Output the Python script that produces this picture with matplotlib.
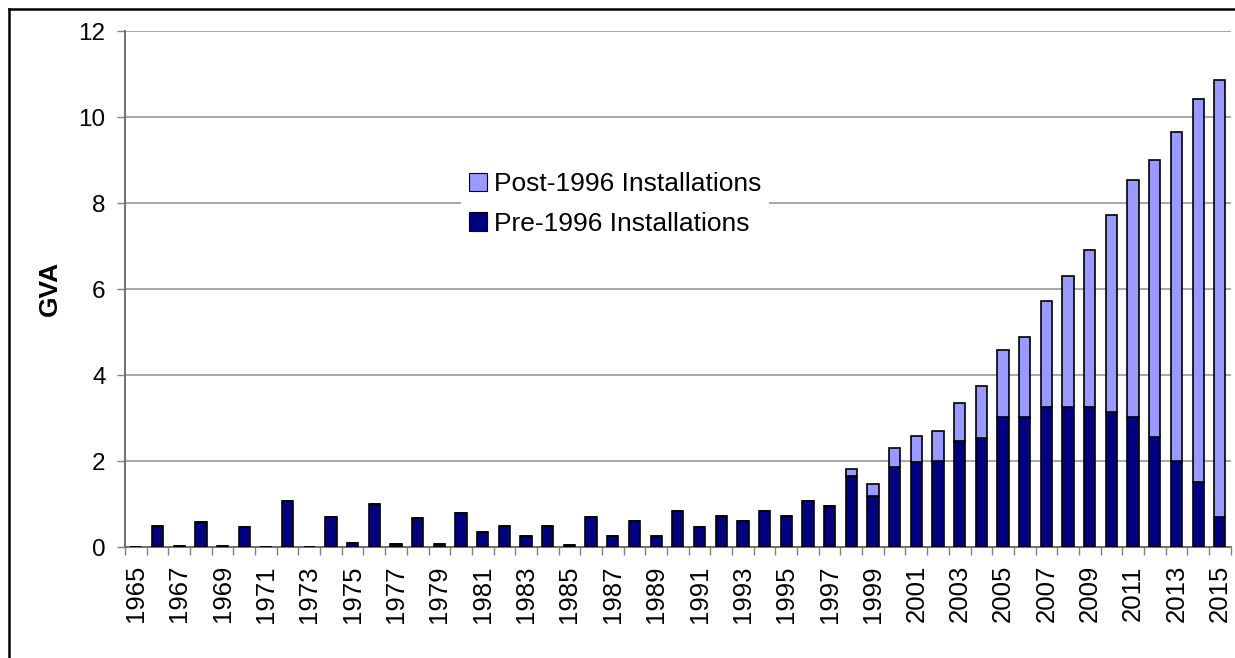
import matplotlib
matplotlib.use("Agg")
import matplotlib.pyplot as plt
from matplotlib.patches import Patch
from matplotlib.lines import Line2D
import numpy as np

plt.rcParams['font.family'] = ['Liberation Sans', 'DejaVu Sans']

years = list(range(1965, 2016))
pre_1996 = [0, 0.49, 0.03, 0.57, 0.03, 0.46, 0, 1.08, 0, 0.70, 0.10,
            1.00, 0.07, 0.67, 0.07, 0.78, 0.35, 0.48, 0.26, 0.48, 0.05,
            0.69, 0.26, 0.60, 0.26, 0.84, 0.47, 0.71, 0.60, 0.84, 0.71,
            1.08, 0.95, 1.64, 1.19, 1.86, 1.98, 1.99, 2.47, 2.54, 3.02,
            3.02, 3.26, 3.26, 3.26, 3.14, 3.02, 2.56, 1.99, 1.52, 0.70]
post_1996 = [0] * 33 + [0.17, 0.28, 0.45, 0.61, 0.70, 0.87, 1.20, 1.55,
                        1.87, 2.45, 3.05, 3.65, 4.59, 5.51, 6.43, 7.66, 8.91, 10.15]
y_ticks = [0, 2, 4, 6, 8, 10, 12]
series_labels = ["Post-1996 Installations", "Pre-1996 Installations"]

W, H = 1235, 658
fig = plt.figure(figsize=(W / 100, H / 100), dpi=100)

# axes in pixel geometry
left, right, top, bottom = 125, 125 + 21.68 * 51, 31, 547
ax = fig.add_axes([left / W, 1 - bottom / H, (right - left) / W, (bottom - top) / H])

x = np.arange(len(years))
dark = '#000080'
light = '#9999FF'
bw = 0.52
ax.bar(x, pre_1996, width=bw, color=dark, edgecolor='black', linewidth=1.2, zorder=3)
ax.bar(x, post_1996, width=bw, bottom=pre_1996, color=light, edgecolor='black',
       linewidth=1.2, zorder=3)

ax.set_xlim(-0.5, len(years) - 0.5)
ax.set_ylim(0, 12)
ax.set_yticks(y_ticks)
ax.set_yticklabels([str(v) for v in y_ticks])
ax.yaxis.grid(True, color='#a0a0a0', linewidth=1.3, zorder=0)
ax.set_axisbelow(True)

for s in ['top', 'right']:
    ax.spines[s].set_visible(False)
for s in ['left', 'bottom']:
    ax.spines[s].set_color('#707070')
    ax.spines[s].set_linewidth(1.4)

ax.tick_params(axis='y', direction='out', length=6, width=1, color='#808080',
               labelsize=17.5, pad=8)
# boundaries as major ticks, labels as minor
ax.set_xticks(np.arange(len(years) + 1) - 0.5)
ax.set_xticklabels([])
ax.tick_params(axis='x', which='major', direction='out', length=6, width=1,
               color='#808080')
lab_idx = [i for i, y in enumerate(years) if (y - 1965) % 2 == 0]
ax.set_xticks(lab_idx, minor=True)
ax.set_xticklabels([str(years[i]) for i in lab_idx], minor=True, rotation=90,
                   fontsize=18.5)
ax.tick_params(axis='x', which='minor', length=0, pad=13)

fig.text(50 / W, 1 - 288 / H, 'GVA', rotation=90, ha='center', va='center',
         fontsize=19, fontweight='bold')

handles = [Patch(facecolor=light, edgecolor='black', linewidth=0.8),
           Patch(facecolor=dark, edgecolor='black', linewidth=0.8)]
leg = fig.legend(handles, series_labels, loc='center',
                 bbox_to_anchor=(615 / W, 1 - 204 / H), fontsize=19,
                 frameon=True, fancybox=False, handlelength=0.7, handleheight=0.7,
                 handletextpad=0.25, labelspacing=0.6, borderpad=0.3)
leg.get_frame().set_edgecolor('none')
leg.get_frame().set_facecolor('white')
leg.get_frame().set_alpha(1)

# outer frame
fig.add_artist(Line2D([9 / W, 9 / W], [0, 1 - 9 / H], color='black', linewidth=1.8,
                      transform=fig.transFigure))
fig.add_artist(Line2D([9 / W, 1], [1 - 9 / H, 1 - 9 / H], color='black', linewidth=1.8,
                      transform=fig.transFigure))

fig.savefig('out.png', dpi=100)
